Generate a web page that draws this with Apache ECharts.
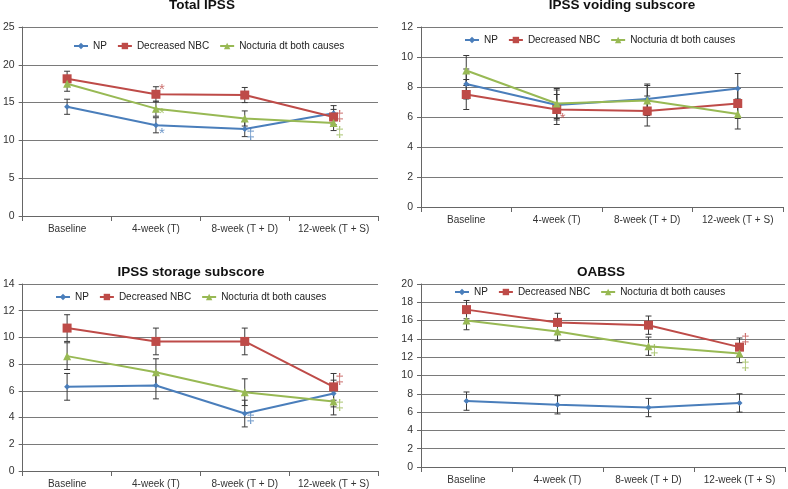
<!DOCTYPE html>
<html><head><meta charset="utf-8">
<script src="https://cdn.jsdelivr.net/npm/echarts@6/dist/echarts.min.js"></script>
<style>html,body{margin:0;padding:0;background:#fff}#c{width:788px;height:489px}</style>
</head><body><div id="c"></div>
<script>
const categories = ['Baseline', '4-week (T)', '8-week (T + D)', '12-week (T + S)'];
const seriesNames = ['NP', 'Decreased NBC', 'Nocturia dt both causes'];

const totalNP = [14.45, 12.0, 11.5, 13.6];
const totalNBC = [18.15, 16.1, 16.0, 13.1];
const totalBoth = [17.5, 14.2, 12.9, 12.3];
const totalErr = [1, 1, 1, 1];

const voidNP = [8.2, 6.8, 7.2, 7.9];
const voidNBC = [7.5, 6.5, 6.4, 6.9];
const voidBoth = [9.1, 6.9, 7.1, 6.2];
const voidErr = [1, 1, 1, 1];

const storNP = [6.3, 6.4, 4.3, 5.8];
const storNBC = [10.7, 9.7, 9.7, 6.3];
const storBoth = [8.6, 7.4, 5.9, 5.2];
const storErr = [1, 1, 1, 1];

const oabNP = [7.2, 6.8, 6.5, 7.0];
const oabNBC = [17.2, 15.8, 15.5, 13.1];
const oabBoth = [16.0, 14.8, 13.2, 12.4];
const oabErr = [1, 1, 1, 1];

// annotations: [category index, value, symbol, group]
const totalAnn = [[1, 16.7, '*', 1], [1, 13.5, '*', 2], [1, 10.8, '*', 0], [2, 10.7, '‡', 0], [3, 13.1, '‡', 1], [3, 11.05, '‡', 2]];
const voidAnn = [[1, 5.9, '*', 1]];
const storAnn = [[2, 3.9, '‡', 0], [3, 6.8, '‡', 1], [3, 4.9, '‡', 2]];
const oabAnn = [[3, 13.9, '‡', 1], [2, 12.7, '‡', 2], [3, 11.1, '‡', 2]];

const titles = ['Total IPSS', 'IPSS voiding subscore', 'IPSS storage subscore', 'OABSS'];
const yMax = [25, 12, 14, 20];
const yInterval = [5, 2, 2, 2];

const colors = ['#4a7ebb', '#be4b48', '#98b954'];
const symbols = ['diamond', 'rect', 'triangle'];
const symbolSizes = [6, 9, 8];

const panels = [
  {vals: [totalNP, totalNBC, totalBoth], err: totalErr, ann: totalAnn},
  {vals: [voidNP, voidNBC, voidBoth], err: voidErr, ann: voidAnn},
  {vals: [storNP, storNBC, storBoth], err: storErr, ann: storAnn},
  {vals: [oabNP, oabNBC, oabBoth], err: oabErr, ann: oabAnn}
];

const grids = [
  {left: 20, top: 27, width: 358, height: 189},
  {left: 421, top: 27, width: 362, height: 180},
  {left: 20, top: 284, width: 358, height: 187},
  {left: 421, top: 284, width: 364, height: 183}
];
const titlePos = [[202, -2], [622, -2], [191, 265], [601, 265]];
const legendPos = [[73, 41], [464, 35], [55, 292], [454, 287]];

const font = 'Liberation Sans, Arial, sans-serif';
const option = {
  animation: false,
  backgroundColor: '#fff',
  title: titles.map((t, i) => ({
    text: t, left: titlePos[i][0], top: titlePos[i][1], textAlign: 'center', padding: 0,
    textStyle: {fontFamily: font, fontSize: 13.5, fontWeight: 'bold', color: '#111'}
  })),
  legend: legendPos.map((p, i) => ({
    data: seriesNames, left: p[0], top: p[1], itemWidth: 14, itemHeight: 8, itemGap: 10,
    padding: 0, textStyle: {fontFamily: font, fontSize: 10, color: '#222'},
    selectedMode: false
  })),
  grid: grids,
  xAxis: grids.map((g, i) => ({
    type: 'category', gridIndex: i, data: categories, boundaryGap: true,
    axisLine: {lineStyle: {color: '#666', width: 1}},
    axisTick: {show: true, length: 5, interval: 0, lineStyle: {color: '#666'}},
    axisLabel: {fontFamily: font, fontSize: 10, color: '#333', margin: 8, interval: 0, hideOverlap: false}
  })),
  yAxis: grids.map((g, i) => ({
    type: 'value', gridIndex: i, min: 0, max: yMax[i], interval: yInterval[i],
    axisLine: {show: true, lineStyle: {color: '#666'}},
    axisTick: {show: true, length: 4, inside: false, lineStyle: {color: '#666'}},
    axisLabel: {fontFamily: font, fontSize: 10.5, color: '#333', margin: 8},
    splitLine: {lineStyle: {color: '#7a7a7a', width: 1}}
  })),
  series: []
};

panels.forEach((p, gi) => {
  p.vals.forEach((arr, si) => {
    option.series.push({
      type: 'custom', name: seriesNames[si] + ' err', xAxisIndex: gi, yAxisIndex: gi,
      data: arr.map((v, k) => [k, v - p.err[k], v + p.err[k]]),
      renderItem: function (params, api) {
        const lo = api.coord([api.value(0), api.value(1)]);
        const hi = api.coord([api.value(0), api.value(2)]);
        const w = 3;
        const st = {stroke: '#3a3a3a', lineWidth: 1};
        return {type: 'group', children: [
          {type: 'line', shape: {x1: lo[0], y1: lo[1], x2: hi[0], y2: hi[1]}, style: st},
          {type: 'line', shape: {x1: lo[0] - w, y1: lo[1], x2: lo[0] + w, y2: lo[1]}, style: st},
          {type: 'line', shape: {x1: hi[0] - w, y1: hi[1], x2: hi[0] + w, y2: hi[1]}, style: st}
        ]};
      },
      z: 1, silent: true
    });
  });
  p.vals.forEach((arr, si) => {
    option.series.push({
      type: 'line', name: seriesNames[si], xAxisIndex: gi, yAxisIndex: gi, data: arr,
      symbol: symbols[si], symbolSize: symbolSizes[si], showSymbol: true,
      lineStyle: {color: colors[si], width: 2},
      itemStyle: {color: colors[si]}, z: 3
    });
  });
  option.series.push({
    type: 'scatter', xAxisIndex: gi, yAxisIndex: gi, symbolSize: 0, z: 4, silent: true,
    data: p.ann.map(a => ({value: [a[0], a[1]], name: a[2],
      label: {color: colors[a[3]]}})),
    label: {show: true, position: 'inside', offset: [6, 0], formatter: d => d.name,
      fontFamily: font, fontSize: 15}
  });
});

const chart = echarts.init(document.getElementById('c'), null, {renderer: 'canvas'});
chart.setOption(option);
</script></body></html>
